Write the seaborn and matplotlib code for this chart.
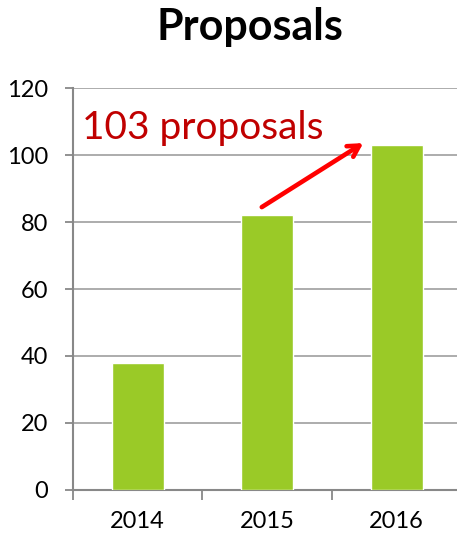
import pandas as pd
import seaborn as sns
import matplotlib.pyplot as plt
from matplotlib.ticker import FixedLocator

years = ['2014', '2015', '2016']
proposals = [38, 82, 103]
y_ticks = [0, 20, 40, 60, 80, 100, 120]

sns.set_style('white')
plt.rcParams['font.family'] = ['Lato', 'DejaVu Sans']
plt.rcParams['text.color'] = 'black'
plt.rcParams['xtick.labelcolor'] = 'black'
plt.rcParams['ytick.labelcolor'] = 'black'

df = pd.DataFrame({'year': years, 'proposals': proposals})

fig = plt.figure(figsize=(4.57, 5.34), dpi=100)
ax = fig.add_axes([0.1597, 0.0824, 0.85, 0.7528])

sns.barplot(data=df, x='year', y='proposals', color='#9ACA27', saturation=1,
            width=0.4, ax=ax, zorder=3)

ax.set_xlim(-0.5, 2.5)
ax.set_ylim(0, 120)
ax.set_yticks(y_ticks)
ax.set_xlabel('')
ax.set_ylabel('')

# grid + spines
ax.grid(axis='y', color='#a6a6a6', linewidth=1.3, zorder=0)
for s in ['top', 'right']:
    ax.spines[s].set_visible(False)
for s in ['left', 'bottom']:
    ax.spines[s].set_color('#888888')
    ax.spines[s].set_linewidth(1.5)

# ticks: y outward, x between categories
ax.tick_params(axis='y', length=6, width=1.3, color='#888888', direction='out',
               labelsize=17, pad=12, left=True, labelcolor='black')
ax.tick_params(axis='x', which='major', length=0, labelsize=17, pad=15,
               labelcolor='black')
ax.xaxis.set_minor_locator(FixedLocator([-0.5, 0.5, 1.5]))
ax.tick_params(axis='x', which='minor', length=7, width=1.3, color='#888888',
               direction='out', bottom=True)

fig.text(250 / 457, 1 - 27 / 534, 'Proposals', fontsize=31, fontweight='bold',
         ha='center', va='center', color='black')

# annotation
ax.text(-0.43, 108, '103 proposals', color='#C00000', fontsize=28,
        va='center', ha='left', zorder=5)
ax.annotate('', xy=(1.76, 104), xytext=(0.94, 84),
            arrowprops=dict(arrowstyle='->,head_length=0.8,head_width=0.45',
                            color='#FF0000', lw=3.3), zorder=5)

fig.savefig('out.png', dpi=100)
